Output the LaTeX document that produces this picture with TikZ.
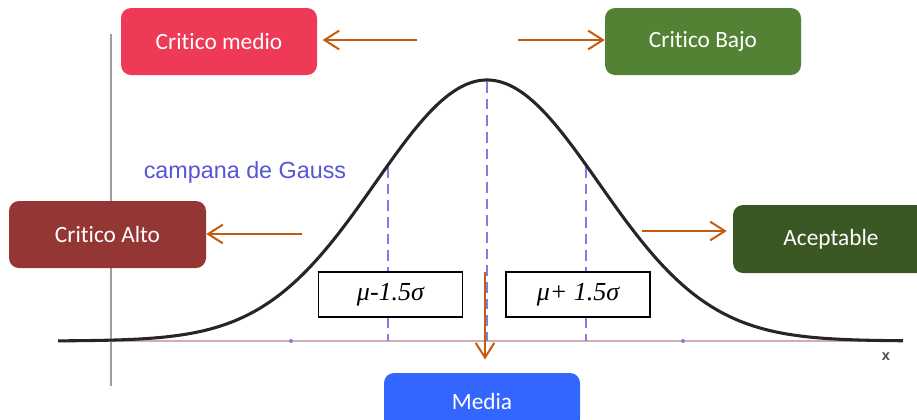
\documentclass[tikz,border=0pt]{standalone}
\usepackage{fontspec}
\newfontfamily\carl[RawFeature={-liga}]{Carlito}
\newfontfamily\lsans{Liberation Sans}
\newfontfamily\lserif{Liberation Serif}
\usetikzlibrary{arrows.meta}
\definecolor{cmedio}{RGB}{238,58,86}
\definecolor{cbajo}{RGB}{84,130,53}
\definecolor{calto}{RGB}{148,54,52}
\definecolor{acept}{RGB}{58,87,36}
\definecolor{media}{RGB}{51,102,255}
\definecolor{arrc}{RGB}{197,90,17}
\definecolor{dashc}{RGB}{125,125,230}
\definecolor{gtext}{RGB}{85,85,215}
\definecolor{axisc}{RGB}{160,156,160}
\definecolor{xaxis}{RGB}{210,175,175}
\tikzset{
  catbox/.style={rounded corners=7.5pt, minimum width=147pt, minimum height=50.25pt,
    inner sep=0pt, text=white, font=\carl\fontsize{17.5}{20}\selectfont},
  mubox/.style={draw=black, line width=1.3pt, fill=white, minimum width=108pt,
    minimum height=33.5pt, inner sep=0pt, font=\lserif\itshape\fontsize{19.5}{22}\selectfont},
  arr/.style={draw=arrc, line width=1.5pt, -{Straight Barb[length=11pt,width=14pt,line width=1.5pt]}},
  dashl/.style={draw=dashc, line width=1.5pt, dash pattern=on 8pt off 4.5pt}
}
\begin{document}
\begin{tikzpicture}[x=0.75pt,y=-0.75pt]
\useasboundingbox (0,0) rectangle (917,419);
% axes
\draw[axisc, line width=2.2pt] (111,34) -- (111,386);
\draw[xaxis, line width=2.2pt] (58,341) -- (903,341);
\fill[dashc] (291,341) circle (1.5pt);
\fill[dashc] (683,341) circle (1.5pt);
% dashed lines
\draw[dashl] (487,82) -- (487,341);
\draw[dashl] (388,167) -- (388,341);
\draw[dashl] (586,167) -- (586,341);
% curve
\draw[black!85, line width=2.3pt, line join=round]
  plot[domain=58:903, samples=160, smooth] ({\x},{341-261*exp(-((\x-487)/111.5)^2/2)});
% texts
\node[text=gtext, font=\lsans\fontsize{17.5}{20}\selectfont, anchor=center] (gauss) at (245,172) {campana de Gauss};
\node[text=black!70, font=\lsans\bfseries\fontsize{11}{12}\selectfont] (xlab) at (886,357) {x};
% boxes
\node[catbox, fill=cmedio] (medio) at (219,41.5) {Critico medio};
\node[catbox, fill=cbajo] (bajo) at (703,41.5) {Critico Bajo};
\node[catbox, fill=calto, minimum width=147.75pt] (alto) at (107.5,234.5) {Critico Alto};
\node[catbox, fill=acept, minimum height=51pt] (acep) at (831,239) {Aceptable};
\node[catbox, fill=media, minimum height=42pt] (med) at (482,401) {Media};
\node[mubox] (mleft) at (390.5,294.5) {μ-1.5σ};
\node[mubox] (mright) at (578,294.5) {μ+ 1.5σ};
% arrow starts
\coordinate (s1) at (417,40);
\coordinate (s2) at (518,40);
\coordinate (s3) at (302,234);
\coordinate (s4) at (642,231);
\coordinate (s5) at (485,272);
\draw[arr, shorten >=4pt] (s1) -- (s1 -| medio.east);
\draw[arr] (s2) -- (s2 -| bajo.west);
\draw[arr] (s3) -- (s3 -| alto.east);
\draw[arr, shorten >=4.5pt] (s4) -- (s4 -| acep.west);
\draw[arr, shorten >=10pt] (s5) -- (s5 |- med.north);
\end{tikzpicture}
\end{document}
